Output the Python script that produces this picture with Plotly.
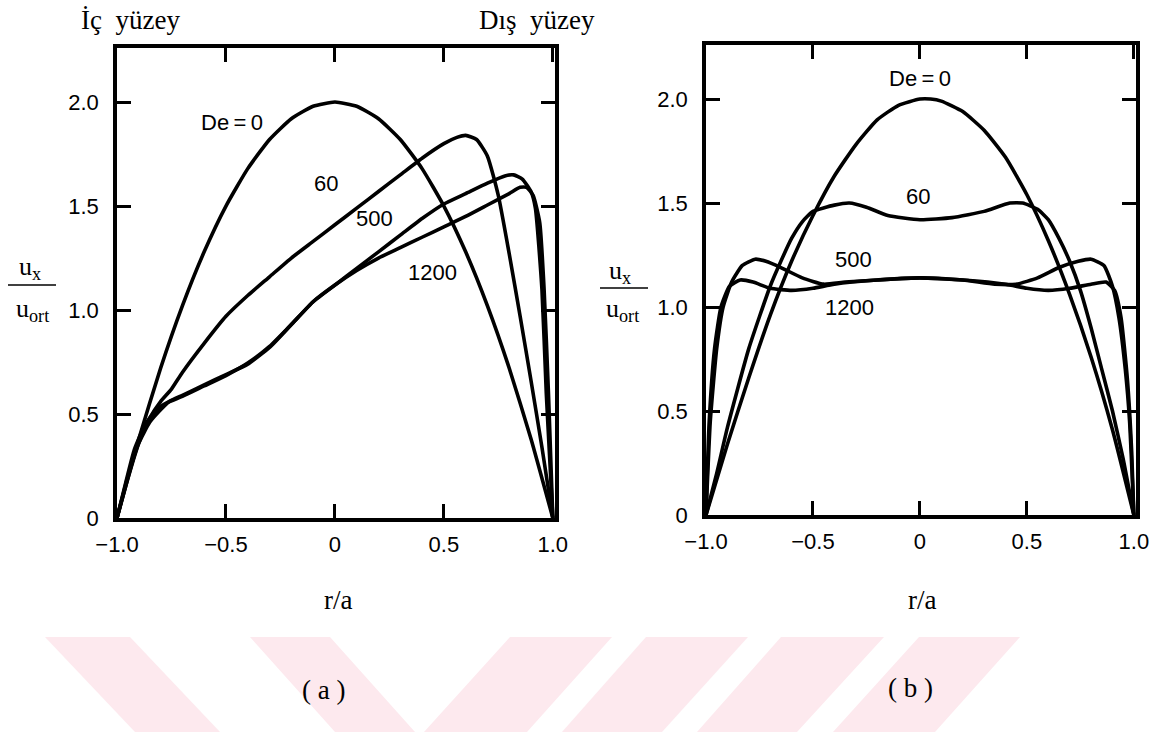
import plotly.graph_objects as go

W, H = 1163, 732

# ---------------- data: panel (a) ----------------
R_A_DE0 = [-1.0, -0.9, -0.8, -0.7, -0.6, -0.5, -0.4, -0.3, -0.2, -0.1, 0.0,
           0.1, 0.2, 0.3, 0.4, 0.5, 0.6, 0.7, 0.8, 0.9, 1.0]
U_A_DE0 = [0.0, 0.38, 0.72, 1.02, 1.28, 1.50, 1.68, 1.82, 1.92, 1.98, 2.00,
           1.98, 1.92, 1.82, 1.68, 1.50, 1.28, 1.02, 0.72, 0.38, 0.0]

R_A_DE60 = [-1.0, -0.95, -0.9, -0.85, -0.8, -0.75, -0.7, -0.6, -0.5, -0.4, -0.3,
            -0.2, -0.1, 0.0, 0.1, 0.2, 0.3, 0.4, 0.5, 0.56, 0.6, 0.65, 0.7, 0.75,
            0.8, 0.85, 0.9, 0.95, 1.0]
U_A_DE60 = [0.0, 0.19, 0.36, 0.48, 0.56, 0.62, 0.70, 0.84, 0.97, 1.07, 1.16,
            1.25, 1.33, 1.41, 1.49, 1.57, 1.65, 1.73, 1.80, 1.83, 1.84, 1.82, 1.74, 1.55,
            1.27, 0.97, 0.66, 0.34, 0.0]

R_A_DE500 = [-1.0, -0.95, -0.9, -0.85, -0.8, -0.76, -0.7, -0.6, -0.5, -0.4, -0.3,
             -0.2, -0.1, 0.0, 0.1, 0.2, 0.3, 0.4, 0.5, 0.6, 0.7, 0.78, 0.82, 0.86,
             0.9, 0.92, 0.95, 0.97, 0.985, 1.0]
U_A_DE500 = [0.0, 0.20, 0.36, 0.46, 0.52, 0.56, 0.59, 0.64, 0.69, 0.74, 0.82,
             0.93, 1.04, 1.12, 1.20, 1.28, 1.36, 1.44, 1.51, 1.56, 1.61, 1.645, 1.65, 1.63,
             1.57, 1.49, 1.10, 0.60, 0.30, 0.0]

R_A_DE1200 = [-1.0, -0.96, -0.92, -0.87, -0.82, -0.77, -0.7, -0.6, -0.5, -0.4, -0.3,
              -0.2, -0.1, 0.0, 0.1, 0.2, 0.3, 0.4, 0.5, 0.6, 0.7, 0.8, 0.85, 0.88,
              0.91, 0.94, 0.96, 0.98, 0.99, 1.0]
U_A_DE1200 = [0.0, 0.17, 0.33, 0.45, 0.52, 0.555, 0.585, 0.635, 0.685, 0.745, 0.825,
              0.93, 1.04, 1.12, 1.19, 1.25, 1.30, 1.35, 1.40, 1.45, 1.505, 1.56, 1.59, 1.59,
              1.55, 1.42, 1.10, 0.60, 0.30, 0.0]

# ---------------- data: panel (b) ----------------
R_B_DE0 = [-1.0, -0.9, -0.8, -0.7, -0.6, -0.5, -0.4, -0.3, -0.2, -0.1, 0.0, 0.05,
           0.1, 0.2, 0.3, 0.4, 0.5, 0.6, 0.7, 0.8, 0.9, 1.0]
U_B_DE0 = [0.0, 0.34, 0.66, 0.96, 1.22, 1.44, 1.63, 1.78, 1.90, 1.97, 2.00, 2.00,
           1.99, 1.94, 1.85, 1.72, 1.54, 1.32, 1.06, 0.76, 0.41, 0.0]

R_B_DE60 = [-1.0, -0.95, -0.9, -0.8, -0.7, -0.65, -0.6, -0.55, -0.5, -0.4, -0.33,
            -0.25, -0.15, 0.0, 0.15, 0.3, 0.42, 0.48, 0.55, 0.6, 0.65, 0.7, 0.75,
            0.8, 0.85, 0.9, 0.95, 1.0]
U_B_DE60 = [0.0, 0.20, 0.42, 0.80, 1.10, 1.22, 1.33, 1.41, 1.46, 1.49, 1.50,
            1.48, 1.44, 1.42, 1.43, 1.46, 1.50, 1.50, 1.47, 1.42, 1.33, 1.22, 1.08,
            0.90, 0.70, 0.50, 0.27, 0.0]

R_B_DE500 = [-1.0, -0.98, -0.95, -0.92, -0.88, -0.83, -0.77, -0.72, -0.65, -0.55,
             -0.45, -0.35, -0.2, 0.0, 0.2, 0.35, 0.45, 0.55, 0.65, 0.74, 0.8, 0.86,
             0.9, 0.93, 0.96, 0.98, 1.0]
U_B_DE500 = [0.0, 0.45, 0.80, 1.00, 1.12, 1.20, 1.23, 1.22, 1.19, 1.14,
             1.11, 1.12, 1.13, 1.14, 1.13, 1.11, 1.11, 1.14, 1.19, 1.22, 1.23, 1.20,
             1.10, 0.95, 0.70, 0.45, 0.0]

R_B_DE1200 = [-1.0, -0.985, -0.96, -0.93, -0.89, -0.84, -0.78, -0.7, -0.6, -0.5,
              -0.4, -0.2, 0.0, 0.2, 0.4, 0.5, 0.6, 0.7, 0.8, 0.87, 0.91, 0.94,
              0.97, 0.99, 1.0]
U_B_DE1200 = [0.0, 0.45, 0.80, 1.00, 1.10, 1.13, 1.12, 1.09, 1.08, 1.09,
              1.11, 1.13, 1.14, 1.13, 1.11, 1.09, 1.08, 1.09, 1.11, 1.12, 1.08, 0.95,
              0.65, 0.30, 0.0]

# tick labels
X_TICKS = [-1.0, -0.5, 0.0, 0.5, 1.0]
X_TICK_TEXT = ["\u22121.0", "\u22120.5", "0", "0.5", "1.0"]
Y_TICKS = [0.0, 0.5, 1.0, 1.5, 2.0]
Y_TICK_TEXT = ["0", "0.5", "1.0", "1.5", "2.0"]

# curve labels (panel, text, r, u)
CURVE_LABELS = [
    ("a", "De\u2009=\u20090", -0.47, 1.90),
    ("a", "60", -0.04, 1.61),
    ("a", "500", 0.18, 1.44),
    ("a", "1200", 0.45, 1.18),
    ("b", "De\u2009=\u20090", 0.0, 2.10),
    ("b", "60", -0.01, 1.53),
    ("b", "500", -0.31, 1.23),
    ("b", "1200", -0.33, 1.00),
]

# ---------------- figure ----------------
def px(x):
    return x / W


def py(y):
    return 1 - y / H


fig = go.Figure()

LINE = dict(color="black", width=3.6, shape="spline", smoothing=0.5)

for r, u in [(R_A_DE0, U_A_DE0), (R_A_DE60, U_A_DE60),
             (R_A_DE500, U_A_DE500), (R_A_DE1200, U_A_DE1200)]:
    fig.add_trace(go.Scatter(x=r, y=u, mode="lines", line=LINE,
                             xaxis="x", yaxis="y", showlegend=False, hoverinfo="skip"))
for r, u in [(R_B_DE0, U_B_DE0), (R_B_DE60, U_B_DE60),
             (R_B_DE500, U_B_DE500), (R_B_DE1200, U_B_DE1200)]:
    fig.add_trace(go.Scatter(x=r, y=u, mode="lines", line=LINE,
                             xaxis="x2", yaxis="y2", showlegend=False, hoverinfo="skip"))

SANS = "Liberation Sans, Arial, sans-serif"
SERIF = "Liberation Serif, Times New Roman, serif"

axis_common = dict(showline=True, linecolor="black", linewidth=3.5, mirror="allticks",
                   ticks="inside", ticklen=14, tickwidth=3, tickcolor="black",
                   showgrid=False, zeroline=False, automargin=False,
                   tickfont=dict(family=SANS, size=22, color="black"))

fig.update_layout(
    width=W, height=H, margin=dict(l=0, r=0, t=0, b=0, autoexpand=False),
    paper_bgcolor="white", plot_bgcolor="rgba(0,0,0,0)",
    xaxis=dict(domain=[px(117), px(555)], range=[-1.0, 1.01], anchor="y",
               tickvals=X_TICKS, ticktext=X_TICK_TEXT, ticklabelstandoff=4, **axis_common),
    yaxis=dict(domain=[py(518), py(48)], range=[0, 2.26], anchor="x",
               tickvals=Y_TICKS, ticktext=Y_TICK_TEXT, ticklabelstandoff=10, **axis_common),
    xaxis2=dict(domain=[px(706), px(1136)], range=[-1.0, 1.01], anchor="y2",
                tickvals=X_TICKS, ticktext=X_TICK_TEXT, ticklabelstandoff=4, **axis_common),
    yaxis2=dict(domain=[py(515), py(45)], range=[0, 2.26], anchor="x2",
                tickvals=Y_TICKS, ticktext=Y_TICK_TEXT, ticklabelstandoff=10, **axis_common),
)

# curve labels
for panel, text, r, u in CURVE_LABELS:
    xr, yr = ("x", "y") if panel == "a" else ("x2", "y2")
    fig.add_annotation(x=r, y=u, xref=xr, yref=yr, text=text, showarrow=False,
                       xanchor="center", yanchor="middle",
                       font=dict(family=SANS, size=22, color="black"))

# free text (serif)
def ptext(text, x, y, size=24):
    fig.add_annotation(x=px(x), y=py(y), xref="paper", yref="paper", text=text,
                       showarrow=False, xanchor="center", yanchor="middle",
                       font=dict(family=SERIF, size=size, color="black"))

ptext("\u0130\u00e7  y\u00fczey", 130, 20, 27)
ptext("D\u0131\u015f  y\u00fczey", 537, 20, 27)
ptext("r/a", 338, 600, 27)
ptext("r/a", 922, 600, 27)
ptext("( a )", 323, 690, 27)
ptext("( b )", 910, 688, 27)

# y-axis fraction labels
for cx, ytop, yline, ybot, x0, x1 in [(30, 268, 285, 310, 8, 56), (620, 272, 288, 310, 600, 648)]:
    ptext("u<sub>x</sub>", cx, ytop, 26)
    ptext("u<sub>ort</sub>", cx + 2, ybot, 26)
    fig.add_shape(type="line", xref="paper", yref="paper",
                  x0=px(x0), x1=px(x1), y0=py(yline), y1=py(yline),
                  line=dict(color="black", width=1.5))

# pink watermark bands (decoration)
PINK = "#fde9ee"
bands = [
    [(45, 637), (130, 637), (220, 732), (135, 732)],
    [(250, 637), (330, 637), (415, 732), (335, 732)],
    [(510, 637), (612, 637), (527, 732), (424, 732)],
    [(646, 637), (748, 637), (662, 732), (562, 732)],
    [(781, 637), (884, 637), (797, 732), (697, 732)],
    [(919, 637), (1020, 637), (935, 732), (833, 732)],
]
for b in bands:
    path = "M " + " L ".join(f"{px(x):.5f},{py(y):.5f}" for x, y in b) + " Z"
    fig.add_shape(type="path", path=path, xref="paper", yref="paper",
                  fillcolor=PINK, line=dict(width=0), layer="below")

fig.write_html("out.html", config={"displayModeBar": False},
               post_script="document.body.style.margin='0px';document.body.style.padding='0px';")
